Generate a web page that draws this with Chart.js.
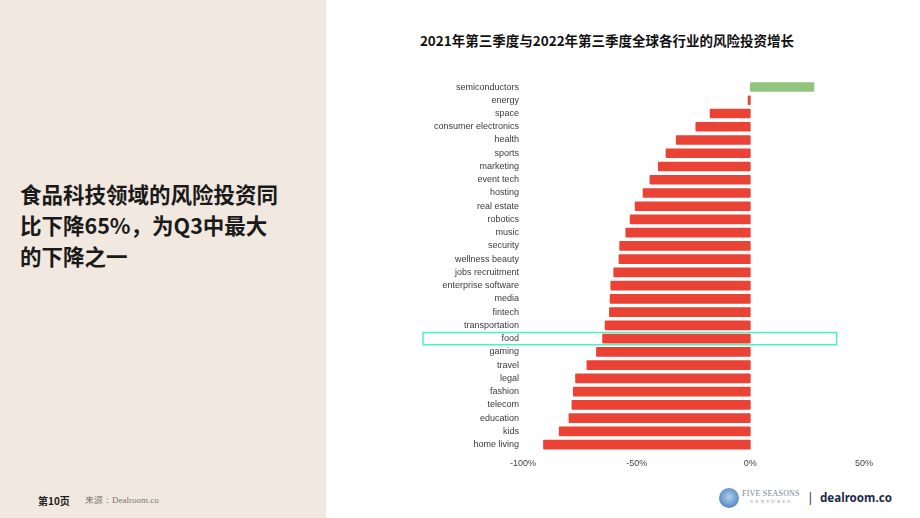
<!DOCTYPE html>
<html>
<head>
<meta charset="utf-8">
<script src="https://cdn.jsdelivr.net/npm/chart.js@4/dist/chart.umd.min.js"></script>
<style>
  html, body { margin:0; padding:0; width:920px; height:518px; overflow:hidden; background:#ffffff; font-family:"Noto Sans CJK SC","Noto Sans",sans-serif; }
  #left { position:absolute; left:0; top:0; width:326px; height:518px; background:#f1e9df; }
  #headline { position:absolute; left:20px; top:178px; font-size:21.5px; font-weight:700; line-height:31px; color:#1a1a1a; }
  #page { position:absolute; left:38px; top:493px; font-size:10px; font-weight:700; color:#222; }
  #src { position:absolute; left:85px; top:494px; font-size:9px; color:#777; font-family:"Liberation Serif","DejaVu Serif",serif; }
  #title { position:absolute; left:330px; width:554px; top:30px; text-align:center; font-size:13.5px; font-weight:700; color:#111; }
  #wrap { position:absolute; left:420px; top:71px; width:460px; height:405px; }
  #logo { position:absolute; left:719px; top:488px; width:20px; height:20px; border-radius:50%; background:radial-gradient(circle at 50% 45%, #b5cfea 0%, #6b9ad0 55%, #2f64a8 100%); }
  #fs1 { position:absolute; left:742px; top:489px; font-family:"Liberation Serif","DejaVu Serif",serif; font-size:8px; color:#7a8496; letter-spacing:0.2px; }
  #fs2 { position:absolute; left:750px; top:499px; font-family:"Liberation Serif","DejaVu Serif",serif; font-size:5px; color:#8a93a3; letter-spacing:2px; }
  #sep { position:absolute; left:807px; top:489px; font-family:"Noto Sans",sans-serif; font-size:12px; color:#1d2a4a; }
  #dr { position:absolute; left:820px; top:490px; font-family:"Noto Sans","Open Sans",sans-serif; font-size:11.6px; font-weight:700; color:#1d2a4a; }
</style>
</head>
<body>
<div id="left"></div>
<div id="headline">食品科技领域的风险投资同<br>比下降65%，为Q3中最大<br>的下降之一</div>
<div id="page">第10页</div>
<div id="src">来源：Dealroom.co</div>
<div id="title">2021年第三季度与2022年第三季度全球各行业的风险投资增长</div>
<div id="wrap"><canvas id="c"></canvas></div>
<div id="logo"></div>
<div id="fs1">FIVE SEASONS</div>
<div id="fs2">VENTURES</div>
<div id="sep">|</div>
<div id="dr">dealroom.co</div>
<script>
const categories = ["semiconductors","energy","space","consumer electronics","health","sports","marketing","event tech","hosting","real estate","robotics","music","security","wellness beauty","jobs recruitment","enterprise software","media","fintech","transportation","food","gaming","travel","legal","fashion","telecom","education","kids","home living"];
const growth = [28,-1,-17.7,-24,-32.6,-37.1,-40.5,-44.2,-47.2,-50.7,-52.9,-54.8,-57.5,-57.8,-60.1,-61.4,-61.7,-62,-63.9,-65,-67.7,-71.9,-76.9,-77.9,-78.5,-79.8,-84.1,-91];
const xTicks = [-100,-50,0,50];
const highlightCategory = "food";
const positiveColor = "#93c47d";
const negativeColor = "#ea4335";

const highlightPlugin = {
  id: 'highlight',
  afterDatasetsDraw(chart) {
    const y = chart.scales.y, x = chart.scales.x;
    const idx = categories.indexOf(highlightCategory);
    const cy = y.getPixelForValue(idx);
    const half = (y.getPixelForValue(1) - y.getPixelForValue(0)) / 2;
    const ctx = chart.ctx;
    ctx.save();
    ctx.strokeStyle = '#4cf2c2';
    ctx.lineWidth = 1.5;
    const left = 3, right = x.getPixelForValue(38);
    ctx.strokeRect(left, cy - half + 0.5, right - left, half * 2 - 1);
    ctx.restore();
  }
};

new Chart(document.getElementById('c'), {
  type: 'bar',
  data: {
    labels: categories,
    datasets: [{
      data: growth,
      backgroundColor: growth.map(v => v >= 0 ? positiveColor : negativeColor),
      barThickness: 9,
      borderRadius: 1,
      borderSkipped: false
    }]
  },
  options: {
    indexAxis: 'y',
    responsive: true,
    maintainAspectRatio: false,
    animation: false,
    layout: { padding: { top: 9.4, right: 12, left: 0, bottom: 0 } },
    plugins: { legend: { display: false }, tooltip: { enabled: false } },
    scales: {
      x: {
        min: -100, max: 50,
        afterBuildTicks: s => { s.ticks = xTicks.map(v => ({ value: v })); },
        grid: { display: false, drawTicks: false },
        border: { display: false },
        ticks: { color: '#444', font: { family: 'Liberation Sans, Arial, sans-serif', size: 9 }, padding: 7, callback: v => v + '%', maxRotation: 0 }
      },
      y: {
        grid: { display: false, drawTicks: false },
        border: { display: false },
        afterFit: s => { s.width = 103; },
        ticks: { color: '#3a3a3a', font: { family: 'Liberation Sans, Arial, sans-serif', size: 9 }, padding: 4, autoSkip: false }
      }
    }
  },
  plugins: [highlightPlugin]
});
</script>
</body>
</html>
